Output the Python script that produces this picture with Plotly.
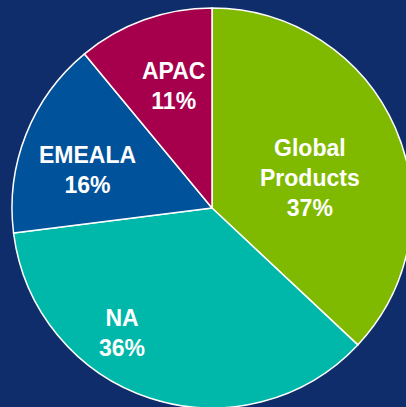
import math
import plotly.graph_objects as go

# ---- data ----
labels = ["Global Products", "NA", "EMEALA", "APAC"]
values = [37, 36, 16, 11]

# ---- styling / layout ----
colors = ["#80BA00", "#00B8A9", "#00529B", "#A6004D"]
label_lines = ["Global<br>Products", "NA", "EMEALA", "APAC"]
# label placement: (clockwise angle from 12 o'clock in degrees, fraction of radius)
label_angle = [73, 215.6, 287, 342.7]
label_rfrac = [0.51, 0.77, 0.65, 0.64]

W, H = 412, 408          # page is cropped to 406x407 by the window
R = 200
cx, cy = 212, 208        # pie centre in pixels (from top-left)

dom_x = [(cx - R) / W, (cx + R) / W]
dom_y = [1 - (cy + R) / H, 1 - (cy - R) / H]

fig = go.Figure(go.Pie(
    labels=labels,
    values=values,
    sort=False,
    direction="clockwise",
    rotation=0,
    marker=dict(colors=colors, line=dict(color="white", width=1.5)),
    textinfo="none",
    hoverinfo="label+percent",
    showlegend=False,
    domain=dict(x=dom_x, y=dom_y),
))

total = sum(values)
for name, v, ang, rf in zip(label_lines, values, label_angle, label_rfrac):
    a = math.radians(ang)
    px = cx + rf * R * math.sin(a)
    py = cy - rf * R * math.cos(a)
    fig.add_annotation(
        x=px / W, y=1 - py / H, xref="paper", yref="paper",
        text=f"{name}<br>{round(100 * v / total)}%",
        showarrow=False, xanchor="center", yanchor="middle", align="center",
        font=dict(family="Liberation Sans, Arial, sans-serif", size=23, color="white", weight="bold"),
    )

fig.update_layout(
    width=W, height=H,
    margin=dict(l=0, r=0, t=0, b=0),
    paper_bgcolor="#0F2D6A",
    plot_bgcolor="#0F2D6A",
)

fig.write_html(
    "out.html",
    config={"displayModeBar": False},
    post_script="document.body.style.margin='0';document.body.style.background='#0F2D6A';document.body.style.overflow='hidden';",
)
